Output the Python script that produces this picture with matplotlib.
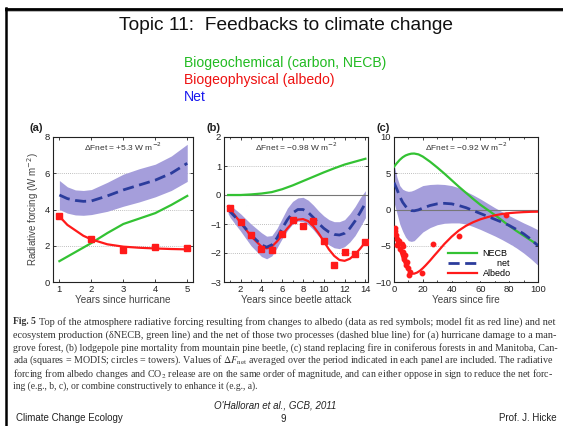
import matplotlib
matplotlib.use("Agg")
import matplotlib.pyplot as plt
from matplotlib.lines import Line2D

W, H = 563, 426

# ---------------- data ----------------
# Panel (a): hurricane
a_x = [1, 1.25, 1.5, 1.75, 2, 2.5, 3, 3.5, 4, 4.5, 5]
a_necb = [1.15, 1.4, 1.65, 1.9, 2.15, 2.7, 3.2, 3.5, 3.8, 4.25, 4.75]
a_fit = [3.62, 3.15, 2.85, 2.55, 2.35, 2.08, 1.95, 1.89, 1.85, 1.82, 1.80]
a_net = [4.8, 4.6, 4.5, 4.45, 4.47, 4.75, 5.08, 5.35, 5.62, 6.0, 6.55]
a_up = [5.6, 5.25, 5.08, 5.05, 5.1, 5.5, 5.95, 6.25, 6.5, 6.95, 7.6]
a_lo = [4.0, 3.8, 3.7, 3.68, 3.72, 3.9, 4.18, 4.42, 4.7, 5.05, 5.55]
a_sq_x = [1, 2, 3, 4, 5]
a_sq_y = [3.65, 2.4, 1.76, 1.95, 1.85]

# Panel (b): beetle
b_gx = [0.8, 2, 3, 4, 5, 6, 7, 8, 9, 10, 11, 12, 13, 14]
b_necb = [0, 0, 0.02, 0.05, 0.1, 0.2, 0.33, 0.48, 0.63, 0.78, 0.92, 1.05, 1.15, 1.25]
b_x = [0.8, 1, 2, 3, 4, 4.5, 5, 5.5, 6, 6.5, 7, 7.5, 8, 8.5, 9, 9.5, 10,
       10.5, 11, 11.5, 12, 12.5, 13, 13.5, 14]
b_fit = [-0.4, -0.5, -0.95, -1.42, -1.78, -1.84, -1.78, -1.6, -1.38, -1.15,
         -0.95, -0.85, -0.83, -0.9, -1.08, -1.32, -1.6, -1.88, -2.1, -2.24,
         -2.27, -2.2, -2.05, -1.85, -1.62]
b_net = [-0.5, -0.58, -0.95, -1.38, -1.72, -1.8, -1.72, -1.48, -1.15, -0.85,
         -0.62, -0.5, -0.5, -0.6, -0.78, -0.98, -1.15, -1.28, -1.36, -1.38,
         -1.32, -1.15, -0.9, -0.6, -0.28]
b_up = [-0.3, -0.35, -0.65, -1.0, -1.3, -1.42, -1.4, -1.15, -0.8, -0.45,
        -0.22, -0.1, -0.08, -0.18, -0.35, -0.55, -0.72, -0.85, -0.92, -0.92,
        -0.85, -0.65, -0.4, -0.1, 0.15]
b_lo = [-0.65, -0.78, -1.25, -1.75, -2.12, -2.2, -2.1, -1.82, -1.5, -1.22,
        -1.0, -0.9, -0.92, -1.02, -1.2, -1.42, -1.6, -1.72, -1.82, -1.85,
        -1.78, -1.62, -1.4, -1.1, -0.78]
b_sq_x = list(range(1, 15))
b_sq_y = [-0.45, -0.92, -1.38, -1.85, -1.9, -1.33, -0.86, -1.07, -0.9, -1.6,
          -2.4, -1.98, -2.02, -1.62]

# Panel (c): fire
c_x = [0, 2, 4, 6, 8, 10, 12, 14, 17, 20, 25, 30, 35, 40, 45, 50, 55, 60,
       65, 70, 75, 80, 85, 90, 95, 100]
c_necb = [5.9, 6.4, 6.85, 7.2, 7.45, 7.6, 7.7, 7.72, 7.6, 7.3, 6.6, 5.8, 4.95,
          4.05, 3.15, 2.3, 1.45, 0.65, -0.05, -0.75, -1.5, -2.25, -2.95, -3.6,
          -4.25, -4.9]
c_net = [3.7, 2.8, 1.8, 1.0, 0.45, 0.05, -0.15, -0.18, -0.05, 0.2, 0.55, 0.78,
         0.85, 0.78, 0.55, 0.25, -0.15, -0.55, -0.95, -1.35, -1.75, -2.2,
         -2.75, -3.35, -4.1, -5.0]
c_up = [6.2, 4.5, 3.3, 2.8, 2.6, 2.5, 2.55, 2.7, 3.0, 3.3, 3.45, 3.5, 3.45,
        3.3, 3.0, 2.5, 2.0, 1.45, 0.85, 0.25, -0.3, -0.85, -1.35, -1.85, -2.3,
        -2.8]
c_lo = [1.0, -0.5, -2.0, -3.0, -3.8, -4.3, -4.4, -4.3, -3.7, -3.1, -2.5, -2.1,
        -1.9, -1.85, -1.85, -2.0, -2.35, -2.75, -3.2, -3.65, -4.15, -4.7, -5.3,
        -6.0, -6.8, -7.7]
c_fx = [1, 2, 3, 4, 5, 6, 7, 8, 9, 10, 11, 12, 13, 14, 16, 18, 20, 22, 25, 28,
        30, 35, 40, 45, 50, 55, 60, 65, 70, 75, 80, 85, 90, 95, 100]
c_fit = [-3.2, -4.0, -4.8, -5.5, -6.1, -6.7, -7.2, -7.7, -8.1, -8.4, -8.65,
         -8.8, -8.85, -8.85, -8.7, -8.45, -8.1, -7.7, -7.05, -6.35, -5.9,
         -4.75, -3.75, -2.9, -2.25, -1.75, -1.35, -1.05, -0.8, -0.62, -0.5,
         -0.42, -0.36, -0.32, -0.3]
c_pt_x = [0.7, 1.0, 1.4, 1.9, 2.3, 2.8, 3.7, 4.2, 5.3, 6.0, 6.5, 7.0, 7.7, 8.4,
          8.8, 10.0, 10.7, 11.2, 19.3, 27.4, 45, 78]
c_pt_y = [-2.6, -3.0, -3.5, -4.9, -4.0, -4.6, -4.4, -5.4, -4.7, -5.8, -5.1,
          -6.8, -6.3, -7.7, -7.2, -8.1, -9.1, -8.6, -8.7, -4.8, -3.6, -0.75]

panel_labels = ["(a)", "(b)", "(c)"]
xlabels = ["Years since hurricane", "Years since beetle attack", "Years since fire"]
dfnet = ["\u0394Fnet = +5.3 W m$^{-2}$", "\u0394Fnet = \u22120.98 W m$^{-2}$",
         "\u0394Fnet = \u22120.92 W m$^{-2}$"]
legend_labels = ["NECB", "      net", "Albedo"]

caption_lines = [
    "Top of the atmosphere radiative forcing resulting from changes to albedo (data as red symbols; model fit as red line) and net",
    "ecosystem production (\u03b4NECB, green line) and the net of those two processes (dashed blue line) for (a) hurricane damage to a man-",
    "grove forest, (b) lodgepole pine mortality from mountain pine beetle, (c) stand replacing fire in coniferous forests in and Manitoba, Can-",
    "ada (squares = MODIS; circles = towers). Values of $\\Delta F_{\\mathrm{net}}$ averaged over the period indicated in each panel are included. The radiative",
    "forcing from albedo changes and CO$_2$ release are on the same order of magnitude, and can either oppose in sign to reduce the net forc-",
    "ing (e.g., b, c), or combine constructively to enhance it (e.g., a).",
]

GREEN = "#33c233"
RED = "#ff1a1a"
BLUE = "#2b3c9c"
BAND = "#a59edb"

SANS = ["Liberation Sans", "DejaVu Sans"]
SERIF = ["Liberation Serif", "DejaVu Serif"]

fig = plt.figure(figsize=(W / 100, H / 100), dpi=100)
fig.patch.set_facecolor("white")


def fx(x):
    return x / W


def fy(y):
    return 1 - y / H


# slide border
fig.add_artist(Line2D([fx(6), fx(563)], [fy(10.5), fy(10.5)], color="#aaaaaa", lw=1.2))
fig.add_artist(Line2D([fx(6), fx(563)], [fy(8.5), fy(8.5)], color="black", lw=2.0))
fig.add_artist(Line2D([fx(6), fx(6)], [fy(8), fy(426)], color="black", lw=1.8))

fig.text(fx(286), fy(26), "Topic 11:  Feedbacks to climate change", ha="center",
         va="center", fontsize=13.8, family=SANS, color="#111111")
fig.text(fx(184), fy(63), "Biogeochemical (carbon, NECB)", ha="left", va="center",
         fontsize=10.1, family=SANS, color="#22bb22")
fig.text(fx(184), fy(80), "Biogeophysical (albedo)", ha="left", va="center",
         fontsize=10.1, family=SANS, color="#ee1111")
fig.text(fx(184), fy(97), "Net", ha="left", va="center",
         fontsize=10.1, family=SANS, color="#1a1aee")

# axes
boxes = [(53, 193), (224, 368), (394, 538)]
top, bot = 137, 282
axes = []
for (l, r) in boxes:
    ax = fig.add_axes([fx(l), fy(bot), (r - l) / W, (bot - top) / H])
    axes.append(ax)


def style(ax, yticks, grid_vals):
    for s in ax.spines.values():
        s.set_linewidth(0.8)
        s.set_color("#222222")
    ax.tick_params(direction="in", length=2.5, width=0.6, labelsize=6.8,
                   colors="#222222", top=True, right=True, pad=2)
    for lab in ax.get_xticklabels() + ax.get_yticklabels():
        lab.set_family(SANS)
    ax.set_yticks(yticks)
    for g in grid_vals:
        ax.axhline(g, color="#aaaaaa", lw=0.6, ls=(0, (1, 1.5)), zorder=0)


# panel a
ax = axes[0]
ax.fill_between(a_x, a_lo, a_up, color=BAND, lw=0, zorder=1)
ax.plot(a_x, a_necb, color=GREEN, lw=1.6, zorder=3)
ax.plot(a_x, a_net, color=BLUE, lw=2.0, dashes=(4, 2), zorder=4)
ax.plot(a_x, a_fit, color=RED, lw=1.6, zorder=3)
ax.plot(a_sq_x, a_sq_y, "s", color=RED, ms=5, zorder=5)
ax.set_xlim(0.8, 5.18)
ax.set_ylim(0, 8)
ax.set_xticks([1, 2, 3, 4, 5])
style(ax, [0, 2, 4, 6, 8], [2, 4, 6])
ax.set_ylabel("Radiative forcing (W m$^{-2}$)", fontsize=7, family=SANS,
              color="#444444", labelpad=3)

# panel b
ax = axes[1]
ax.fill_between(b_x, b_lo, b_up, color=BAND, lw=0, zorder=1)
ax.axhline(0, color="#777777", lw=0.8, zorder=2)
ax.plot(b_gx, b_necb, color=GREEN, lw=1.6, zorder=3)
ax.plot(b_x, b_net, color=BLUE, lw=2.0, dashes=(4, 2), zorder=4)
ax.plot(b_x, b_fit, color=RED, lw=1.6, zorder=3)
ax.plot(b_sq_x, b_sq_y, "s", color=RED, ms=4.5, zorder=5)
ax.set_xlim(0.4, 14.25)
ax.set_ylim(-3, 2)
ax.set_xticks([2, 4, 6, 8, 10, 12, 14])
ax.set_xticks(range(1, 15), minor=True)
ax.tick_params(which="minor", direction="in", length=1.5, width=0.5, top=True)
style(ax, [-3, -2, -1, 0, 1, 2], [1, -1, -2])

# panel c
ax = axes[2]
ax.fill_between(c_x, c_lo, c_up, color=BAND, lw=0, zorder=1)
ax.axhline(0, color="#777777", lw=0.8, zorder=2)
l1, = ax.plot(c_x, c_necb, color=GREEN, lw=1.6, zorder=3)
l2, = ax.plot(c_x, c_net, color=BLUE, lw=2.0, dashes=(4, 2), zorder=4)
l3, = ax.plot(c_fx, c_fit, color=RED, lw=1.6, zorder=3)
ax.plot(c_pt_x, c_pt_y, "o", color=RED, ms=3.2, zorder=5)
ax.set_xlim(0, 100)
ax.set_ylim(-10, 10)
ax.set_xticks([0, 20, 40, 60, 80, 100])
ax.set_xticks(range(0, 101, 10), minor=True)
ax.tick_params(which="minor", direction="in", length=1.5, width=0.5, top=True)
style(ax, [-10, -5, 0, 5, 10], [5, -5])
leg = ax.legend([l1, l2, l3], legend_labels, loc="lower right",
                bbox_to_anchor=(0.86, -0.02), frameon=True,
                handlelength=3.2, handletextpad=0.6, labelspacing=0.1,
                borderpad=0.3, prop={"family": SANS, "size": 6.5})
leg.get_frame().set_edgecolor("white")
leg.get_frame().set_facecolor("white")
leg.get_frame().set_alpha(1)
leg.set_zorder(6)

for i, ax in enumerate(axes):
    ax.set_xlabel(xlabels[i], fontsize=7.2, family=SANS, color="#444444", labelpad=1)
    ax.text(0.5, 0.93, dfnet[i], transform=ax.transAxes, ha="center", va="center",
            fontsize=6, family=SANS, color="#333333", math_fontfamily="dejavusans")
    ax.text(-0.17 if i == 0 else -0.12, 1.06, panel_labels[i], transform=ax.transAxes,
            ha="left", va="center", fontsize=8, fontweight="bold", family=SANS,
            color="#222222")

# caption: one text per line, font size fitted so lines fill the column width
renderer = fig.canvas.get_renderer()
cap_y0, cap_dy = 322, 12.9
cap_left, cap_right = 13, 558
cap_fs = 6.9
fig_label = fig.text(fx(cap_left), fy(cap_y0), "Fig. 5", ha="left", va="center",
                     fontsize=cap_fs, family=SERIF, fontweight="bold", color="#333333")
label_w = fig_label.get_window_extent(renderer).width
for i, line in enumerate(caption_lines):
    x_start = cap_left + (label_w + 3 if i == 0 else 0)
    t = fig.text(fx(x_start), fy(cap_y0 + i * cap_dy), line, ha="left", va="center",
                 fontsize=cap_fs, family=SERIF, color="#333333",
                 math_fontfamily="stix")
    if i < len(caption_lines) - 1:
        w = t.get_window_extent(renderer).width
        t.set_fontsize(cap_fs * (cap_right - x_start) / w)

fig.text(fx(275), fy(405), "O'Halloran et al., GCB, 2011", ha="center", va="center",
         fontsize=7, family=SANS, style="italic", color="#222222")
fig.text(fx(16), fy(418), "Climate Change Ecology", ha="left", va="center",
         fontsize=7, family=SANS, color="#222222")
fig.text(fx(283), fy(419), "9", ha="center", va="center",
         fontsize=7, family=SANS, color="#222222")
fig.text(fx(557), fy(418), "Prof. J. Hicke", ha="right", va="center",
         fontsize=7, family=SANS, color="#222222")

fig.savefig("out.png", dpi=100, facecolor="white")
